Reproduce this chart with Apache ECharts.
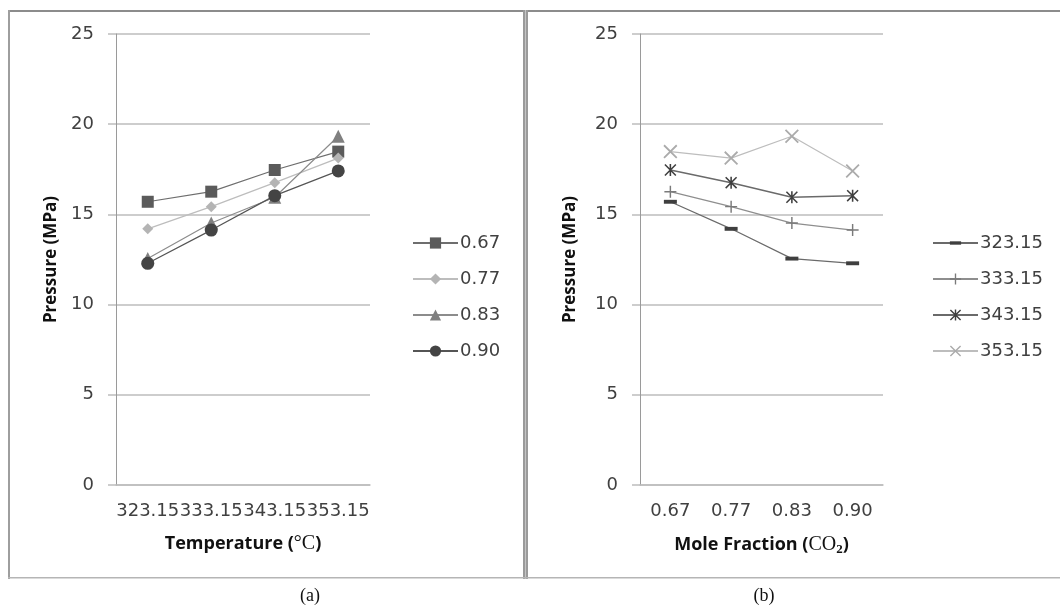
<!DOCTYPE html>
<html>
<head>
<meta charset="utf-8">
<script src="https://cdn.jsdelivr.net/npm/echarts@6/dist/echarts.min.js"></script>
<style>
html,body{margin:0;padding:0;background:#fff;}
#c{width:1060px;height:609px;}
</style>
</head>
<body>
<div id="c"></div>
<script>
// ---- data ----
const temperatures = ['323.15', '333.15', '343.15', '353.15'];
const fractions = ['0.67', '0.77', '0.83', '0.90'];

// panel (a): pressure vs temperature, one series per mole fraction
const a067 = [15.70, 16.26, 17.46, 18.48];
const a077 = [14.20, 15.43, 16.76, 18.12];
const a083 = [12.55, 14.52, 15.95, 19.33];
const a090 = [12.29, 14.13, 16.04, 17.41];

// panel (b): pressure vs mole fraction, one series per temperature
const b32315 = [15.70, 14.20, 12.55, 12.29];
const b33315 = [16.26, 15.43, 14.52, 14.13];
const b34315 = [17.46, 16.76, 15.95, 16.04];
const b35315 = [18.48, 18.12, 19.33, 17.41];

const yTicks = [0, 5, 10, 15, 20, 25];

// ---- styling ----
const FONT = 'DejaVu Sans';
const TXT = '#404040';

const DASH = 'path://M0,0M12,12M0,4.2H12V7.8H0Z';
const PLUS = 'path://M0,4.4H10V5.6H0Z M4.4,0H5.6V10H4.4Z';
const XMARK = 'path://M0,0.9L0.9,0L10,9.1L9.1,10Z M9.1,0L10,0.9L0.9,10L0,9.1Z';
const STAR = 'path://M0,0.9L0.9,0L10,9.1L9.1,10Z M9.1,0L10,0.9L0.9,10L0,9.1Z M4.35,0H5.65V10H4.35Z';

function yAxisFor(gridIndex) {
  return {
    type: 'value', gridIndex, min: yTicks[0], max: yTicks[yTicks.length - 1], interval: 5,
    name: 'Pressure (MPa)', nameLocation: 'middle', nameGap: gridIndex === 0 ? 56 : 61,
    nameTextStyle: { fontFamily: 'Open Sans', fontWeight: 'bold', fontSize: 17, color: '#111' },
    axisLine: { show: true, lineStyle: { color: '#9a9a9a', width: 1 } },
    axisTick: { show: true, length: 8, lineStyle: { color: '#bdbdbd', width: 1.5 } },
    axisLabel: { margin: 22, fontFamily: FONT, fontSize: 18, color: TXT },
    splitLine: { show: true, lineStyle: { color: '#bdbdbd', width: 1.5 } }
  };
}

function xAxisFor(gridIndex, cats, name) {
  return {
    type: 'category', gridIndex, data: cats, boundaryGap: true,
    name, nameLocation: 'middle', nameGap: 49,
    nameTextStyle: {
      fontFamily: 'Open Sans', fontWeight: 'bold', fontSize: 18, color: '#111',
      rich: {
        s: { fontFamily: 'Liberation Serif', fontSize: 20, fontWeight: 'normal', color: '#111' },
        sub: { fontFamily: 'Liberation Serif', fontSize: 13, fontWeight: 'bold', color: '#111', verticalAlign: 'bottom', padding: [9, 0, 0, 0] }
      }
    },
    axisLine: { show: true, lineStyle: { color: '#bdbdbd', width: 1.5 } },
    axisTick: { show: false },
    axisLabel: { margin: 17, fontFamily: FONT, fontSize: 18, color: TXT, interval: 0 },
    splitLine: { show: false }
  };
}

function line(name, data, xi, symbol, size, markerColor, lineColor, lw) {
  return {
    type: 'line', name, data, xAxisIndex: xi, yAxisIndex: xi,
    symbol, symbolSize: size, showSymbol: true,
    lineStyle: { color: lineColor, width: lw || 1.2 },
    itemStyle: { color: markerColor },
    emphasis: { disabled: true },
    animation: false
  };
}

const legendText = { fontFamily: FONT, fontSize: 18, color: TXT, padding: [0, 0, 0, -3] };

const chart = echarts.init(document.getElementById('c'));
chart.setOption({
  backgroundColor: '#fff',
  animation: false,
  grid: [
    { left: 116, top: 34, width: 254, height: 451 },
    { left: 640, top: 34, width: 243, height: 451 }
  ],
  xAxis: [
    xAxisFor(0, temperatures, 'Temperature ({s|°C})'),
    xAxisFor(1, fractions, 'Mole Fraction ({s|CO}{sub|2})')
  ],
  yAxis: [yAxisFor(0), yAxisFor(1)],
  legend: [
    {
      data: fractions, left: 407, top: 229, orient: 'vertical',
      itemWidth: 45, itemHeight: 14, itemGap: 18,
      textStyle: legendText
    },
    {
      data: temperatures, left: 927, top: 229, orient: 'vertical',
      itemWidth: 45, itemHeight: 14, itemGap: 18,
      textStyle: legendText
    }
  ],
  series: [
    line(fractions[0], a067, 0, 'rect', 12, '#5b5b5b', '#6e6e6e'),
    line(fractions[1], a077, 0, 'diamond', 11, '#b4b4b4', '#bdbdbd'),
    line(fractions[2], a083, 0, 'triangle', 13, '#808080', '#8c8c8c'),
    line(fractions[3], a090, 0, 'circle', 13, '#444444', '#555555'),
    line(temperatures[0], b32315, 1, DASH, 13, '#3f3f3f', '#6a6a6a'),
    line(temperatures[1], b33315, 1, PLUS, 12, '#7a7a7a', '#8e8e8e'),
    line(temperatures[2], b34315, 1, STAR, 12, '#3f3f3f', '#6a6a6a', 1.5),
    line(temperatures[3], b35315, 1, XMARK, 14, '#ababab', '#bdbdbd')
  ],
  graphic: [
    { type: 'rect', silent: true, shape: { x: 8, y: 10, width: 1052, height: 2 }, style: { fill: '#8c8c8c' } },
    { type: 'rect', silent: true, shape: { x: 8, y: 10, width: 2, height: 569 }, style: { fill: '#9e9e9e' } },
    { type: 'rect', silent: true, shape: { x: 523, y: 10, width: 5, height: 569 }, style: { fill: '#9a9a9a' } },
    { type: 'rect', silent: true, shape: { x: 525, y: 10, width: 1, height: 569 }, style: { fill: '#c4c4c4' } },
    { type: 'rect', silent: true, shape: { x: 8, y: 577, width: 1052, height: 1.5 }, style: { fill: '#b5b5b5' } },
    { type: 'text', silent: true, style: { text: '(a)', x: 310, y: 596, align: 'center', verticalAlign: 'middle', font: '18px "Liberation Serif"', fill: '#111' } },
    { type: 'text', silent: true, style: { text: '(b)', x: 764, y: 596, align: 'center', verticalAlign: 'middle', font: '18px "Liberation Serif"', fill: '#111' } }
  ]
});
</script>
</body>
</html>
